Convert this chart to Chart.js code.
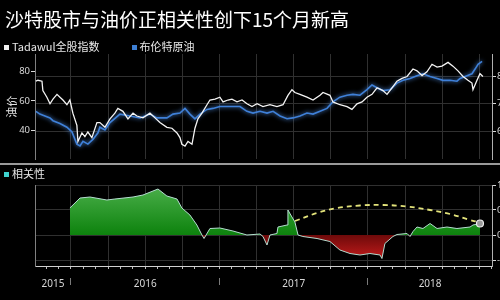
<!DOCTYPE html>
<html>
<head>
<meta charset="utf-8">
<script src="https://cdn.jsdelivr.net/npm/chart.js@4.4.1/dist/chart.umd.min.js"></script>
<style>
  html, body { margin: 0; padding: 0; background: #000; }
  body { width: 500px; height: 300px; position: relative; overflow: hidden; }
  canvas { position: absolute; left: 0; }
  #topChart { top: 0; }
  #botChart { top: 166px; }
  #title { position: absolute; left: 5px; top: 5px; color: #fff; font: 19px "Noto Sans CJK SC", sans-serif; white-space: nowrap; }
  .legend { position: absolute; left: 4px; color: #e8e8e8; font: 11px/14px "Noto Sans CJK SC", sans-serif; white-space: nowrap; }
  .legend .box { display: inline-block; width: 5px; height: 5px; margin-right: 3px; vertical-align: 1px; }
  #divider { position: absolute; left: 0; top: 163px; width: 500px; height: 2px; background: #9a9a9a; }
</style>
</head>
<body>
<canvas id="topChart" width="500" height="166"></canvas>
<canvas id="botChart" width="500" height="134"></canvas>
<div id="divider"></div>
<div id="title">沙特股市与油价正相关性创下15个月新高</div>
<div class="legend" style="top:39px"><span class="box" style="background:#f2f2f2"></span>Tadawul全股指数<span class="box" style="background:#3d7fd4;margin-left:32px"></span>布伦特原油</div>
<div class="legend" style="top:166px"><span class="box" style="background:#3fd3cf"></span>相关性</div>
<script>
  // x values are decimal years
  const xMin = 2015.758;
  const xMax = 2018.835;

  // Tadawul all share index (right axis)
  const taDates = [2015.764, 2015.778, 2015.805, 2015.811, 2015.838, 2015.859, 2015.879, 2015.906, 2015.926, 2015.946,
    2015.973, 2015.993, 2016.013, 2016.040, 2016.047, 2016.074, 2016.094, 2016.114, 2016.141, 2016.175,
    2016.195, 2016.229, 2016.263, 2016.296, 2016.316, 2016.350, 2016.384, 2016.418, 2016.444, 2016.485,
    2016.532, 2016.566, 2016.599, 2016.646, 2016.680, 2016.714, 2016.734, 2016.747, 2016.768, 2016.788,
    2016.815, 2016.835, 2016.855, 2016.882, 2016.916, 2016.936, 2016.970, 2017.003, 2017.024, 2017.057,
    2017.084, 2017.118, 2017.152, 2017.185, 2017.219, 2017.253, 2017.293, 2017.340, 2017.387, 2017.428,
    2017.461, 2017.488, 2017.508, 2017.542, 2017.589, 2017.630, 2017.677, 2017.697, 2017.744, 2017.764,
    2017.811, 2017.859, 2017.892, 2017.926, 2017.960, 2017.993, 2018.027, 2018.061, 2018.101, 2018.128,
    2018.162, 2018.195, 2018.229, 2018.263, 2018.303, 2018.330, 2018.364, 2018.397, 2018.431, 2018.465,
    2018.498, 2018.539, 2018.572, 2018.606, 2018.640, 2018.673, 2018.700, 2018.707, 2018.734, 2018.754,
    2018.774];
  const taValues = [7818, 7852, 7818, 7475, 7235, 6995, 7166, 7338, 7235, 7132,
    6960, 7132, 6652, 6206, 5622, 5931, 5794, 5965, 5760, 6309,
    6309, 6137, 6446, 6652, 6823, 6720, 6446, 6652, 6549, 6480,
    6652, 6480, 6309, 6137, 6103, 5931, 5760, 5519, 5451, 5622,
    5519, 6103, 6446, 6652, 6960, 7132, 7166, 7235, 7063, 7132,
    7166, 7063, 7132, 6995, 6892, 6995, 6892, 6960, 6892, 6960,
    7303, 7509, 7406, 7338, 7235, 7132, 7303, 7406, 7303, 7063,
    6960, 6892, 6789, 6995, 7063, 7235, 7338, 7578, 7475, 7338,
    7578, 7818, 7921, 7990, 8264, 8196, 8024, 8161, 8436, 8333,
    8367, 8504, 8367, 8196, 7990, 7852, 7750, 7509, 7852, 8093,
    7990];

  // Brent crude (left axis)
  const brentDates = [2015.764, 2015.791, 2015.825, 2015.859, 2015.879, 2015.926, 2015.973, 2016.007, 2016.040, 2016.061,
    2016.081, 2016.114, 2016.148, 2016.182, 2016.195, 2016.229, 2016.263, 2016.330, 2016.397, 2016.465,
    2016.532, 2016.579, 2016.646, 2016.687, 2016.734, 2016.768, 2016.801, 2016.835, 2016.869, 2016.916,
    2016.956, 2017.003, 2017.071, 2017.138, 2017.185, 2017.226, 2017.273, 2017.320, 2017.361, 2017.408,
    2017.455, 2017.495, 2017.542, 2017.589, 2017.630, 2017.677, 2017.724, 2017.764, 2017.811, 2017.859,
    2017.899, 2017.946, 2017.993, 2018.027, 2018.061, 2018.101, 2018.148, 2018.195, 2018.236, 2018.283,
    2018.330, 2018.370, 2018.418, 2018.465, 2018.505, 2018.552, 2018.599, 2018.620, 2018.667, 2018.700,
    2018.721, 2018.741, 2018.768];
  const brentValues = [52.8, 50.9, 49.6, 48.3, 46.4, 44.5, 41.9, 38.7, 30.4, 29.1,
    32.3, 30.4, 33.6, 38.1, 41.9, 40.0, 45.1, 50.9, 49.6, 48.3,
    50.9, 48.3, 48.3, 50.9, 51.6, 54.8, 50.9, 47.7, 50.9, 54.1,
    54.8, 56.1, 56.1, 56.1, 52.8, 51.6, 52.8, 51.6, 52.8, 49.6,
    47.7, 48.3, 49.6, 51.6, 50.9, 52.8, 54.8, 59.3, 62.5, 63.8,
    64.4, 63.8, 67.6, 70.8, 68.9, 67.0, 67.6, 72.1, 74.0, 75.3,
    77.2, 78.5, 76.6, 75.3, 74.0, 74.0, 73.4, 75.3, 77.2, 78.5,
    81.7, 84.9, 86.9];

  // Rolling correlation (lower panel)
  const corrDates = [2015.993, 2016.061, 2016.128, 2016.242, 2016.296, 2016.418, 2016.485, 2016.586, 2016.646, 2016.714,
    2016.747, 2016.801, 2016.848, 2016.882, 2016.896, 2016.936, 2017.003, 2017.091, 2017.185, 2017.273,
    2017.293, 2017.320, 2017.340, 2017.387, 2017.394, 2017.455, 2017.461, 2017.488, 2017.508, 2017.529,
    2017.562, 2017.657, 2017.744, 2017.811, 2017.879, 2017.946, 2018.013, 2018.081, 2018.094, 2018.114,
    2018.168, 2018.195, 2018.263, 2018.283, 2018.303, 2018.330, 2018.370, 2018.418, 2018.465, 2018.532,
    2018.599, 2018.687, 2018.707, 2018.754];
  const corrValues = [0.54, 0.74, 0.76, 0.70, 0.72, 0.76, 0.80, 0.92, 0.78, 0.72,
    0.54, 0.40, 0.20, 0.00, -0.07, 0.13, 0.14, 0.08, 0.00, 0.02,
    -0.03, -0.20, 0.00, 0.03, 0.16, 0.20, 0.50, 0.36, 0.26, 0.00,
    -0.03, -0.07, -0.13, -0.30, -0.37, -0.40, -0.37, -0.40, -0.47, -0.17,
    -0.03, 0.01, 0.03, -0.03, 0.07, 0.16, 0.13, 0.23, 0.13, 0.16,
    0.13, 0.16, 0.20, 0.23];

  // dashed arc between the two 15-month highs
  const arcDates = [2017.508, 2017.657, 2017.791, 2017.946, 2018.101, 2018.263, 2018.418, 2018.552, 2018.687, 2018.741];
  const arcValues = [0.28, 0.44, 0.54, 0.59, 0.60, 0.57, 0.50, 0.42, 0.30, 0.26];

  // tick labels
  const oilTicks = [40, 60, 80];
  const tadawulTicks = [6000, 7000, 8000];
  const corrTicks = [-0.5, 0, 0.5, 1];
  const yearLabels = ['2015', '2016', '2017', '2018'];
  const yearLabelPos = [2015.879, 2016.5, 2017.5, 2018.418];
  const yearStarts = [2016, 2017, 2018];

  const gridColor = '#303030';
  const textColor = '#d8d8d8';
  const font = { family: '"Noto Sans", "Noto Sans CJK SC", sans-serif', size: 9.5 };

  const toPoints = (xs, ys) => xs.map((x, i) => ({ x: x, y: ys[i] }));

  const quarterTicks = [];
  for (let q = 0; q < 16; q++) {
    const v = 2015.75 + q * 0.25;
    if (v >= xMin && v <= xMax) quarterTicks.push({ value: v });
  }
  const monthTicks = [];
  for (let m = 0; m < 48; m++) {
    const v = 2015 + m / 12;
    if (v >= xMin && v <= xMax) monthTicks.push({ value: v, major: m % 3 === 0 });
  }

  // soft glow behind the blue line
  const glow = {
    id: 'glow',
    beforeDatasetDraw(chart, args) {
      if (chart.canvas.id === 'topChart' && args.index === 1) {
        chart.ctx.save();
        chart.ctx.shadowColor = 'rgba(90,160,255,0.9)';
        chart.ctx.shadowBlur = 4;
      }
    },
    afterDatasetDraw(chart, args) {
      if (chart.canvas.id === 'topChart' && args.index === 1) chart.ctx.restore();
    }
  };

  new Chart(document.getElementById('topChart'), {
    type: 'line',
    data: {
      datasets: [
        {
          label: 'Tadawul全股指数',
          data: toPoints(taDates, taValues),
          yAxisID: 'yR',
          borderColor: '#f4f4f4',
          borderWidth: 1.3,
          pointRadius: 0
        },
        {
          label: '布伦特原油',
          data: toPoints(brentDates, brentValues),
          yAxisID: 'yL',
          borderColor: '#3f80d8',
          borderWidth: 1.6,
          pointRadius: 0
        }
      ]
    },
    plugins: [glow],
    options: {
      responsive: false,
      animation: false,
      layout: { padding: { top: 54, left: 0, right: 0, bottom: 0 } },
      plugins: { legend: { display: false }, tooltip: { enabled: false } },
      scales: {
        x: {
          type: 'linear', min: xMin, max: xMax,
          afterBuildTicks: s => { s.ticks = quarterTicks.slice(); },
          ticks: { display: false },
          grid: { color: gridColor, drawTicks: false },
          border: { display: false },
          afterFit: s => { s.height = 0; }
        },
        yL: {
          position: 'left', min: 20, max: 92,
          afterBuildTicks: s => { s.ticks = oilTicks.map(v => ({ value: v })); },
          ticks: { color: textColor, font: font, padding: 1 },
          grid: { drawOnChartArea: false, tickLength: 4, tickColor: textColor },
          border: { color: '#808080' },
          title: { display: true, text: '油价', color: '#e0e0e0', font: { family: '"Noto Sans CJK SC"', size: 11 }, padding: { top: 5, bottom: 0 } },
          afterFit: s => { s.width = 35; }
        },
        yR: {
          position: 'right', min: 4970, max: 8810,
          afterBuildTicks: s => { s.ticks = tadawulTicks.map(v => ({ value: v })); },
          ticks: { color: textColor, font: font, padding: 1 },
          grid: { color: gridColor, tickLength: 4, tickColor: textColor },
          border: { color: '#b0b0b0' },
          afterFit: s => { s.width = 8; }
        }
      }
    }
  });

  function corrFill(ctx) {
    const chart = ctx.chart;
    const area = chart.chartArea;
    if (!area) return 'rgba(20,140,20,0.8)';
    const y = chart.scales.yR;
    const top = y.getPixelForValue(1);
    const bottom = y.getPixelForValue(-0.5);
    const z = (y.getPixelForValue(0) - top) / (bottom - top);
    const g = chart.ctx.createLinearGradient(0, top, 0, bottom);
    g.addColorStop(0, '#4cb04c');
    g.addColorStop(z, '#0d820d');
    g.addColorStop(z, '#6e0a0a');
    g.addColorStop(1, '#c41c1c');
    return g;
  }

  new Chart(document.getElementById('botChart'), {
    type: 'line',
    data: {
      datasets: [
        {
          label: '相关性',
          data: toPoints(corrDates, corrValues),
          yAxisID: 'yR',
          borderColor: '#b4dccf',
          borderWidth: 1,
          fill: 'origin',
          backgroundColor: corrFill,
          pointRadius: ctx => ctx.dataIndex === corrValues.length - 1 ? 3.5 : 0,
          pointBackgroundColor: '#9a9a9a',
          pointBorderColor: '#eeeeee',
          pointBorderWidth: 1.2
        },
        {
          label: 'arc',
          data: toPoints(arcDates, arcValues),
          yAxisID: 'yR',
          borderColor: '#e2e27a',
          borderWidth: 1.8,
          borderDash: [5, 4],
          tension: 0.4,
          fill: false,
          pointRadius: 0
        }
      ]
    },
    options: {
      responsive: false,
      animation: false,
      layout: { padding: { top: 19, left: 0, right: 0, bottom: 0 } },
      plugins: { legend: { display: false }, tooltip: { enabled: false } },
      scales: {
        x: {
          type: 'linear', min: xMin, max: xMax, position: 'bottom', weight: 0,
          afterBuildTicks: s => { s.ticks = monthTicks.map(t => ({ value: t.value, major: t.major })); },
          ticks: { display: false },
          grid: {
            color: ctx => (ctx.tick && ctx.tick.major) ? gridColor : 'rgba(0,0,0,0)',
            tickLength: 3,
            tickColor: '#bdbdbd'
          },
          border: { color: '#d0d0d0', width: 1 },
          afterFit: s => { s.height = 12; }
        },
        xb: {
          type: 'linear', min: xMin, max: xMax, position: 'bottom', weight: 1,
          afterBuildTicks: s => {
            s.ticks = yearLabelPos.map((v, i) => ({ value: v, label: yearLabels[i] }))
              .concat(yearStarts.map(v => ({ value: v, label: '' })));
          },
          ticks: {
            autoSkip: false, maxRotation: 0, padding: -7, color: textColor,
            font: { family: font.family, size: 10 },
            callback: function (value) {
              const i = yearLabelPos.indexOf(value);
              return i >= 0 ? yearLabels[i] : '';
            }
          },
          grid: {
            drawOnChartArea: false,
            tickLength: 7,
            tickColor: ctx => (ctx.tick && yearStarts.includes(ctx.tick.value)) ? '#7a7a7a' : 'rgba(0,0,0,0)'
          },
          border: { display: false },
          afterFit: s => { s.height = 22; }
        },
        yL: {
          position: 'left', min: -0.62, max: 1,
          ticks: { display: false },
          grid: { display: false },
          border: { display: true, color: '#808080' },
          afterFit: s => { s.width = 35; }
        },
        yR: {
          position: 'right', min: -0.62, max: 1,
          afterBuildTicks: s => { s.ticks = corrTicks.map(v => ({ value: v })); },
          ticks: { color: textColor, font: font, padding: 1, callback: v => v.toFixed(1) },
          grid: { color: gridColor, tickLength: 4, tickColor: textColor },
          border: { color: '#b0b0b0' },
          afterFit: s => { s.width = 8; }
        }
      }
    }
  });
</script>
</body>
</html>
